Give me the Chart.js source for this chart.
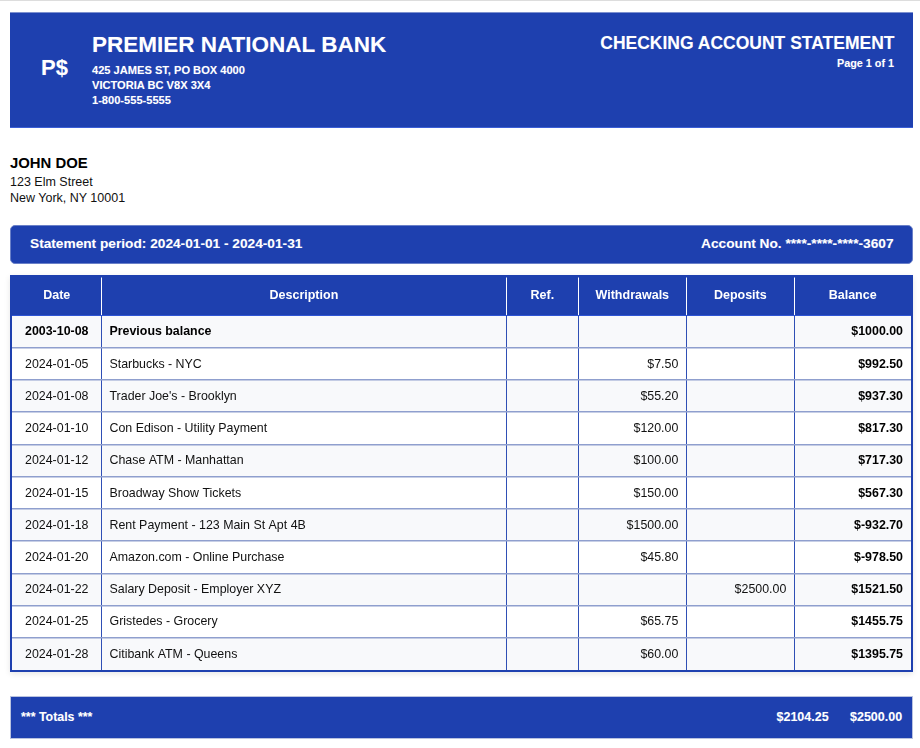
<!DOCTYPE html>
<html>
<head>
<meta charset="utf-8">
<title>Checking Account Statement</title>
<script src="https://cdn.jsdelivr.net/npm/chart.js@4/dist/chart.umd.min.js"></script>
<style>
  html, body { margin: 0; padding: 0; background: #fff; width: 920px; height: 748px; overflow: hidden; }
  body { font-family: "Liberation Sans", Arial, sans-serif; position: relative; border-top: 1px solid #ddd; box-sizing: border-box; }
  .abs { position: absolute; white-space: nowrap; }
  .band { position: absolute; left: 10px; width: 903px; background: #1e40af; box-sizing: border-box; }
  .w { color: #fff; font-weight: bold; text-shadow: 0 0 1px rgba(255,255,255,.25); }
  .r { right: 25.5px; text-align: right; }
  #tableBox { position: absolute; left: 10px; top: 274px; width: 903px; height: 397px; box-sizing: border-box;
    border: 2px solid #1e40af; border-top: 0; box-shadow: 0 2px 6px rgba(0,0,0,.1); }
  #tableBox canvas { display: block; }
</style>
</head>
<body>
  <div class="band" style="top:11px;height:116px;border-top:1px solid #7d90cf;border-bottom:1px solid #3b5fd6"></div>
  <div class="abs w" style="left:41px;top:54px;font-size:22px">P$</div>
  <div class="abs w" style="left:92px;top:31px;font-size:22.5px">PREMIER NATIONAL BANK</div>
  <div class="abs w" style="left:92px;top:62px;font-size:11.1px;line-height:15px">425 JAMES ST, PO BOX 4000<br>VICTORIA BC V8X 3X4<br>1-800-555-5555</div>
  <div class="abs w r" style="top:32px;font-size:17.5px">CHECKING ACCOUNT STATEMENT</div>
  <div class="abs w r" style="top:56px;font-size:10.8px;right:26px">Page 1 of 1</div>

  <div class="abs" style="left:10px;top:154px;font-size:14.9px;font-weight:bold;color:#000">JOHN DOE</div>
  <div class="abs" style="left:10px;top:173px;font-size:12.5px;line-height:16px;color:#111">123 Elm Street<br>New York, NY 10001</div>

  <div class="band" style="top:224px;height:39px;border-radius:5px;border:1px solid #6a80c8"></div>
  <div class="abs w" style="left:30px;top:235px;font-size:13.7px">Statement period: 2024-01-01 - 2024-01-31</div>
  <div class="abs w r" style="top:235px;font-size:13.7px;right:26.5px">Account No. ****-****-****-3607</div>

  <div id="tableBox"><canvas id="statementTable" width="899" height="395"></canvas></div>

  <div class="band" style="top:695px;height:43px;border:1px solid #b9c2e0"></div>
  <div class="abs w" style="left:21px;top:709px;font-size:12.4px">*** Totals ***</div>
  <div class="abs w" style="left:776.5px;top:709px;font-size:12.5px">$2104.25</div>
  <div class="abs w" style="left:850px;top:709px;font-size:12.5px">$2500.00</div>

<script>
  // Statement data
  const columnHeaders = ['Date', 'Description', 'Ref.', 'Withdrawals', 'Deposits', 'Balance'];
  const dates = ['2003-10-08', '2024-01-05', '2024-01-08', '2024-01-10', '2024-01-12', '2024-01-15', '2024-01-18', '2024-01-20', '2024-01-22', '2024-01-25', '2024-01-28'];
  const descriptions = ['Previous balance', 'Starbucks - NYC', "Trader Joe's - Brooklyn", 'Con Edison - Utility Payment', 'Chase ATM - Manhattan', 'Broadway Show Tickets', 'Rent Payment - 123 Main St Apt 4B', 'Amazon.com - Online Purchase', 'Salary Deposit - Employer XYZ', 'Gristedes - Grocery', 'Citibank ATM - Queens'];
  const withdrawals = [null, 7.50, 55.20, 120.00, 100.00, 150.00, 1500.00, 45.80, null, 65.75, 60.00];
  const deposits = [null, null, null, null, null, null, null, null, 2500.00, null, null];
  const balances = [1000.00, 992.50, 937.30, 817.30, 717.30, 567.30, -932.70, -978.50, 1521.50, 1455.75, 1395.75];

  // Column borders, in page pixels
  const columnEdges = [12, 101.5, 506.3, 578.3, 686.3, 794.3, 911];

  const money = v => (v === null ? '' : '$' + v.toFixed(2));
  const FONT = '"Liberation Sans", Arial, sans-serif';

  // Interleave borders and column centres: borders get lines, centres get the header labels
  const headerTicks = [];
  columnEdges.forEach((edge, i) => {
    headerTicks.push({ value: edge });
    if (i < columnHeaders.length) headerTicks.push({ value: (edge + columnEdges[i + 1]) / 2 });
  });

  const cellText = {
    id: 'cellText',
    afterDatasetsDraw(chart) {
      const { ctx, scales: { x, y } } = chart;
      const PAD = 8;
      ctx.save();
      ctx.textBaseline = 'middle';
      dates.forEach((date, i) => {
        const rowY = y.getPixelForValue(i) + 0.4;
        const first = i === 0;
        ctx.fillStyle = first ? '#000' : '#111';
        ctx.font = `${first ? 'bold ' : ''}12.4px ${FONT}`;
        ctx.textAlign = 'center';
        ctx.fillText(date, x.getPixelForValue((columnEdges[0] + columnEdges[1]) / 2), rowY);
        ctx.textAlign = 'left';
        ctx.fillText(descriptions[i], x.getPixelForValue(columnEdges[1]) + PAD, rowY);
        ctx.font = `12.4px ${FONT}`;
        ctx.textAlign = 'right';
        ctx.fillText(money(withdrawals[i]), x.getPixelForValue(columnEdges[4]) - PAD, rowY);
        ctx.fillText(money(deposits[i]), x.getPixelForValue(columnEdges[5]) - PAD, rowY);
        ctx.fillStyle = '#000';
        ctx.font = `bold 12.4px ${FONT}`;
        ctx.fillText(money(balances[i]), x.getPixelForValue(columnEdges[6]) - PAD, rowY);
      });
      ctx.restore();
    }
  };

  new Chart(document.getElementById('statementTable'), {
    type: 'bar',
    data: {
      labels: dates,
      datasets: [{
        // One full-width floating bar per row, gives the striped background
        data: dates.map(() => [columnEdges[0], columnEdges[columnEdges.length - 1]]),
        backgroundColor: ctx => (ctx.dataIndex % 2 ? '#ffffff' : '#f8f9fb'),
        barPercentage: 1,
        categoryPercentage: 1,
        borderWidth: 0
      }]
    },
    options: {
      indexAxis: 'y',
      responsive: false,
      animation: false,
      layout: { padding: 0, autoPadding: false },
      plugins: { legend: { display: false }, tooltip: { enabled: false } },
      scales: {
        x: {
          position: 'top',
          min: columnEdges[0],
          max: columnEdges[columnEdges.length - 1],
          backgroundColor: '#1e40af',
          afterBuildTicks: scale => { scale.ticks = headerTicks.map(t => ({ ...t })); },
          afterFit: scale => { scale.height = 40.5; },
          border: { display: true, color: '#2f55d4', width: 1, z: 3 },
          grid: {
            z: 1,
            tickLength: 38,
            lineWidth: 1,
            color: c => (c.index % 2 === 0 && c.index > 0 && c.index < headerTicks.length - 1 ? '#2f4fb5' : 'transparent'),
            tickColor: c => (c.index % 2 === 0 && c.index > 0 && c.index < headerTicks.length - 1 ? '#ffffff' : 'transparent')
          },
          ticks: {
            z: 2,
            autoSkip: false,
            maxRotation: 0,
            minRotation: 0,
            padding: -26,
            color: '#ffffff',
            font: { family: FONT, size: 12.5, weight: 'bold' },
            callback: (value, i) => (i % 2 ? columnHeaders[(i - 1) / 2] : '')
          }
        },
        y: {
          afterFit: scale => { scale.width = 0; },
          border: { display: false },
          grid: {
            z: 1,
            offset: true,
            drawTicks: false,
            lineWidth: 1.5,
            color: c => (c.index > 0 && c.index < dates.length ? '#8f9fce' : 'transparent')
          },
          ticks: { display: false }
        }
      }
    },
    plugins: [cellText]
  });
</script>
</body>
</html>
